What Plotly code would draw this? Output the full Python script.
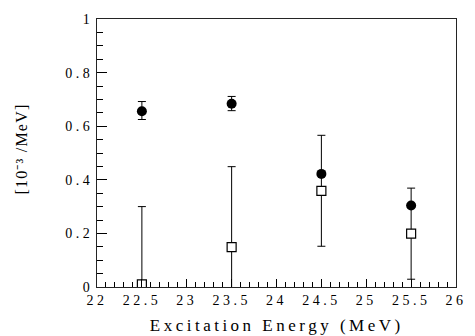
import plotly.graph_objects as go

energy = [22.5, 23.5, 24.5, 25.5]
filled_vals = [0.656, 0.684, 0.422, 0.304]
filled_err_plus = [0.036, 0.027, 0.0, 0.0]
filled_err_minus = [0.031, 0.026, 0.0, 0.0]
open_vals = [0.01, 0.149, 0.359, 0.199]
open_err = [0.29, 0.30, 0.207, 0.17]

x_title = "Excitation Energy (MeV)"
y_title = "[10\u207b\u00b3 /MeV]"

font = "Liberation Serif"

fig = go.Figure()
fig.add_trace(go.Scatter(x=energy, y=open_vals, mode="markers",
                         marker=dict(symbol="square", size=9, color="white",
                                     line=dict(color="black", width=1.2)),
                         error_y=dict(type="data", array=open_err, symmetric=True,
                                      color="black", thickness=1, width=4),
                         showlegend=False))
fig.add_trace(go.Scatter(x=energy, y=filled_vals, mode="markers",
                         marker=dict(symbol="circle", size=10, color="black"),
                         error_y=dict(type="data", array=filled_err_plus,
                                      arrayminus=filled_err_minus, symmetric=False,
                                      color="black", thickness=1, width=4),
                         showlegend=False))

fig.update_layout(
    template="simple_white",
    width=475, height=336,
    margin=dict(l=97, r=14, t=17, b=49),
    font=dict(family=font, color="black", size=14),
    xaxis=dict(range=[22, 26], dtick=0.5, ticks="inside", ticklen=8, tickcolor="black",
               minor=dict(dtick=0.1, ticks="inside", ticklen=5),
               showline=True, mirror=True),
    yaxis=dict(range=[0, 1], dtick=0.2, ticks="inside", ticklen=10, tickcolor="black",
               minor=dict(dtick=0.05, ticks="inside", ticklen=6),
               showline=True, mirror=True),
    annotations=[
        dict(text=x_title, xref="paper", yref="paper", x=0.5, y=-0.145,
             xanchor="center", yanchor="middle", showarrow=False,
             font=dict(size=17, family=font, color="black")),
        dict(text=y_title, xref="paper", yref="paper", x=-0.209, y=0.515,
             xanchor="center", yanchor="middle", showarrow=False, textangle=-90,
             font=dict(size=16, family=font, color="black")),
    ],
)

post = """
document.body.style.margin='0';
(function(){
  var gd = document.getElementById('{plot_id}');
  function sp(){
    gd.querySelectorAll('.xtick text, .ytick text').forEach(function(t){t.style.letterSpacing='3.5px';});
    var a = gd.querySelectorAll('.annotation-text');
    if (a.length > 0) a[0].style.letterSpacing='3.5px';
    if (a.length > 1) a[1].style.letterSpacing='1.2px';
  }
  sp();
  if (gd.on) gd.on('plotly_afterplot', sp);
  setTimeout(sp, 50); setTimeout(sp, 300);
})();
"""
fig.write_html("out.html", post_script=post, config={"displayModeBar": False})
